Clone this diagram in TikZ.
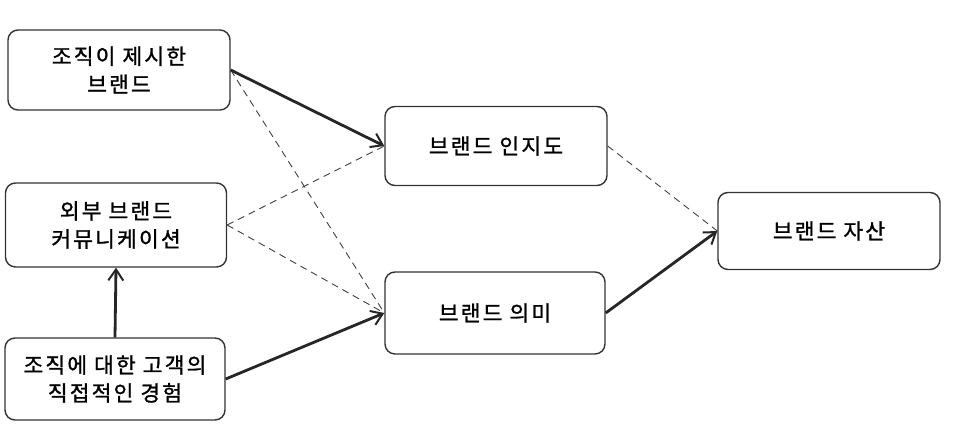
\documentclass[tikz,border=0pt]{standalone}
\usepackage{fontspec}
\newfontfamily\kr[FakeBold=1.2,LetterSpace=10]{Noto Sans CJK KR}
\usetikzlibrary{arrows.meta}
\begin{document}
\begin{tikzpicture}[x=1pt,y=-1pt,
  box/.style={draw=black!80, line width=1.4pt, rounded corners=10pt, fill=white,
    align=center, font=\kr\fontsize{21.5}{28}\selectfont, inner sep=0pt},
  strong/.style={line width=2.8pt, draw=black!85, -{Straight Barb[length=11pt,width=15pt,line width=2pt]}},
  weak/.style={line width=0.9pt, draw=black!75, dash pattern=on 7pt off 5pt}
]
\useasboundingbox[fill=white] (0,0) rectangle (959,444);
\node[box, minimum width=222pt, minimum height=80pt] (A) at (119,70) {조직이 제시한\\브랜드};
\node[box, minimum width=221pt, minimum height=84pt] (B) at (116,225) {외부 브랜드\\커뮤니케이션};
\node[box, minimum width=220pt, minimum height=82pt] (C) at (115,379) {조직에 대한 고객의\\직접적인 경험};
\node[box, minimum width=222pt, minimum height=79pt] (D) at (496,146) {브랜드 인지도};
\node[box, minimum width=220pt, minimum height=82pt] (E) at (495,313) {브랜드 의미};
\node[box, minimum width=222pt, minimum height=77pt] (F) at (829,231) {브랜드 자산};

\draw[weak] (A.east) -- (E.west);
\draw[weak] (B.east) -- (D.west);
\draw[weak] (B.east) -- (E.west);
\draw[weak] (D.east) -- (F.west);
\draw[strong] (A.east) -- (D.west);
\draw[strong] (C.north) -- (B.south);
\draw[strong] (C.east) -- (E.west);
\draw[strong] (E.east) -- (F.west);
\end{tikzpicture}
\end{document}
